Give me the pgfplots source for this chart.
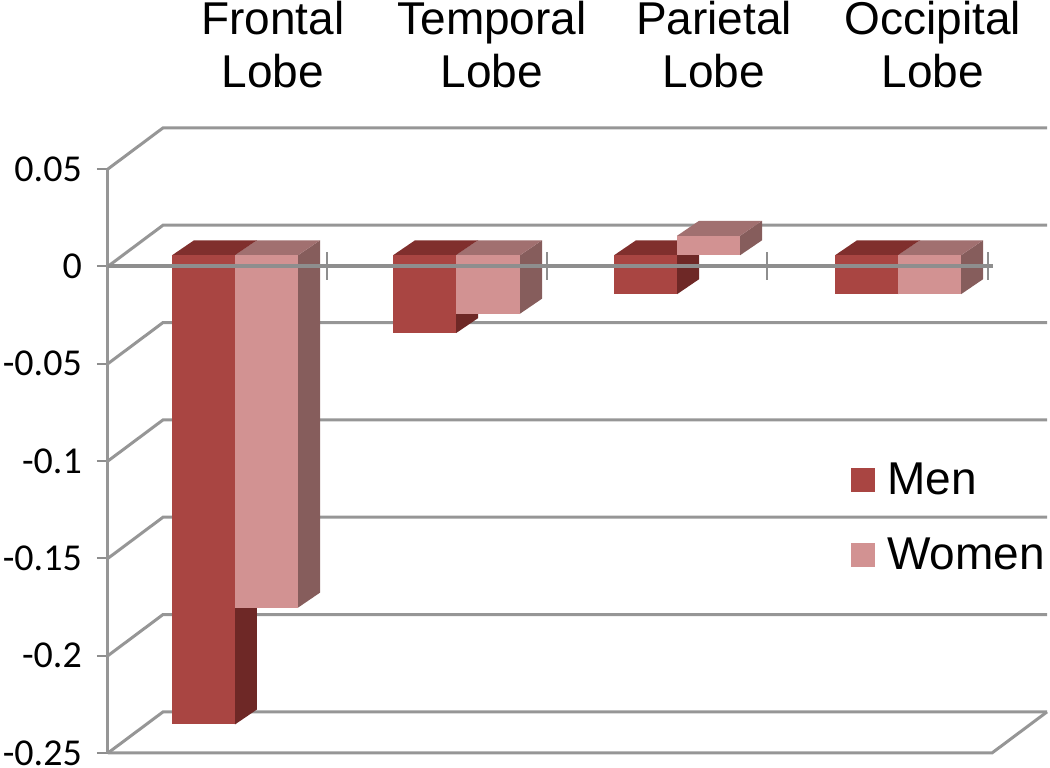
\documentclass[border=0pt]{standalone}
\usepackage{pgfplots}
\pgfplotsset{compat=1.18}
\usepackage{fontspec}
\setmainfont{Liberation Sans}
\newfontfamily\tickfont{Carlito}
\definecolor{menF}{HTML}{A94542}
\definecolor{menT}{HTML}{802F2D}
\definecolor{menS}{HTML}{6E2826}
\definecolor{womF}{HTML}{D29292}
\definecolor{womT}{HTML}{A17070}
\definecolor{womS}{HTML}{865D5C}
\definecolor{gridc}{HTML}{969696}
\definecolor{axisc}{HTML}{8E8E8E}
% x0, x1, hi, lo, front, top, side
\newcommand{\drawbar}[7]{%
  \addplot[fill=#7,draw=none,yshift=11pt,forget plot] coordinates {(#2,#3) ({#2+22},{#3+0.0077}) ({#2+22},{#4+0.0077}) (#2,#4)} --cycle;
  \addplot[fill=#6,draw=none,yshift=11pt,forget plot] coordinates {(#1,#3) ({#1+22},{#3+0.0077}) ({#2+22},{#3+0.0077}) (#2,#3)} --cycle;
  \addplot[fill=#5,draw=none,yshift=11pt,forget plot] coordinates {(#1,#3) (#2,#3) (#2,#4) (#1,#4)} --cycle;
}
\newcommand{\gridl}[1]{%
  \addplot[gridc,line width=3pt,forget plot] coordinates {(108,#1) (163,{#1+0.0211}) (1047,{#1+0.0211})};
}
\begin{document}
\begin{tikzpicture}
\begin{axis}[
  scale only axis, width=884pt, height=584pt,
  xmin=108, xmax=992, ymin=-0.25, ymax=0.05,
  clip=false,
  axis y line=left, axis x line=top,
  y axis line style={-,gridc,line width=3pt},
  x axis line style={draw=none},
  xtick={273,492,714,933},
  xticklabels={{Frontal\\Lobe},{Temporal\\Lobe},{Parietal\\Lobe},{Occipital\\Lobe}},
  xticklabel style={align=center,font=\fontsize{46}{53}\selectfont,inner sep=0pt,yshift=69.5pt},
  x tick style={draw=none},
  ytick={-0.25,-0.2,-0.15,-0.1,-0.05,0,0.05},
  yticklabels={-0.25,-0.2,-0.15,-0.1,-0.05,0,0.05},
  yticklabel style={font=\tickfont\fontsize{38}{40}\selectfont,inner sep=0pt,xshift=-15pt},
  y tick style={axisc,line width=2pt},
  tick align=outside, major tick length=11pt,
  legend cell align=left,
  legend image code/.code={\fill[#1] (0pt,-12pt) rectangle (24pt,12pt);\path (36pt,0pt);},
  legend style={draw=none,fill=none,at={(axis cs:851,-0.101)},anchor=north west,inner sep=0pt,
    font=\fontsize{46}{50}\selectfont,row sep=42pt,nodes={inner sep=0pt}},
]
\gridl{0.05}\gridl{0}\gridl{-0.05}\gridl{-0.1}\gridl{-0.15}\gridl{-0.2}\gridl{-0.25}
\addplot[gridc,line width=3pt,forget plot] coordinates {(1047,-0.2289) (992,-0.25) (108,-0.25)};
\addlegendimage{fill=menF,draw=none}
\addlegendentry{Men}
\addlegendimage{fill=womF,draw=none}
\addlegendentry{Women}
% Frontal
\drawbar{172}{235}{0}{-0.241}{menF}{menT}{menS}
\drawbar{235}{298}{0}{-0.181}{womF}{womT}{womS}
% Temporal
\drawbar{393}{456}{0}{-0.04}{menF}{menT}{menS}
\drawbar{456}{520}{0}{-0.03}{womF}{womT}{womS}
% Parietal
\drawbar{614}{677}{0}{-0.02}{menF}{menT}{menS}
\drawbar{677}{740}{0.01}{0}{womF}{womT}{womS}
% Occipital
\drawbar{835}{898}{0}{-0.02}{menF}{menT}{menS}
\drawbar{898}{961}{0}{-0.02}{womF}{womT}{womS}
% category axis over the bars
\addplot[axisc,line width=4pt,forget plot] coordinates {(108,0) (993,0)};
\addplot[axisc,line width=1.6pt,forget plot] coordinates {(327,0.0072) (327,-0.0072)};
\addplot[axisc,line width=1.6pt,forget plot] coordinates {(547,0.0072) (547,-0.0072)};
\addplot[axisc,line width=1.6pt,forget plot] coordinates {(767,0.0072) (767,-0.0072)};
\addplot[axisc,line width=1.6pt,forget plot] coordinates {(988,0.0072) (988,-0.0072)};
\path (axis cs:0,0.1368) rectangle (axis cs:1050,-0.2577);
\end{axis}
\end{tikzpicture}
\end{document}
